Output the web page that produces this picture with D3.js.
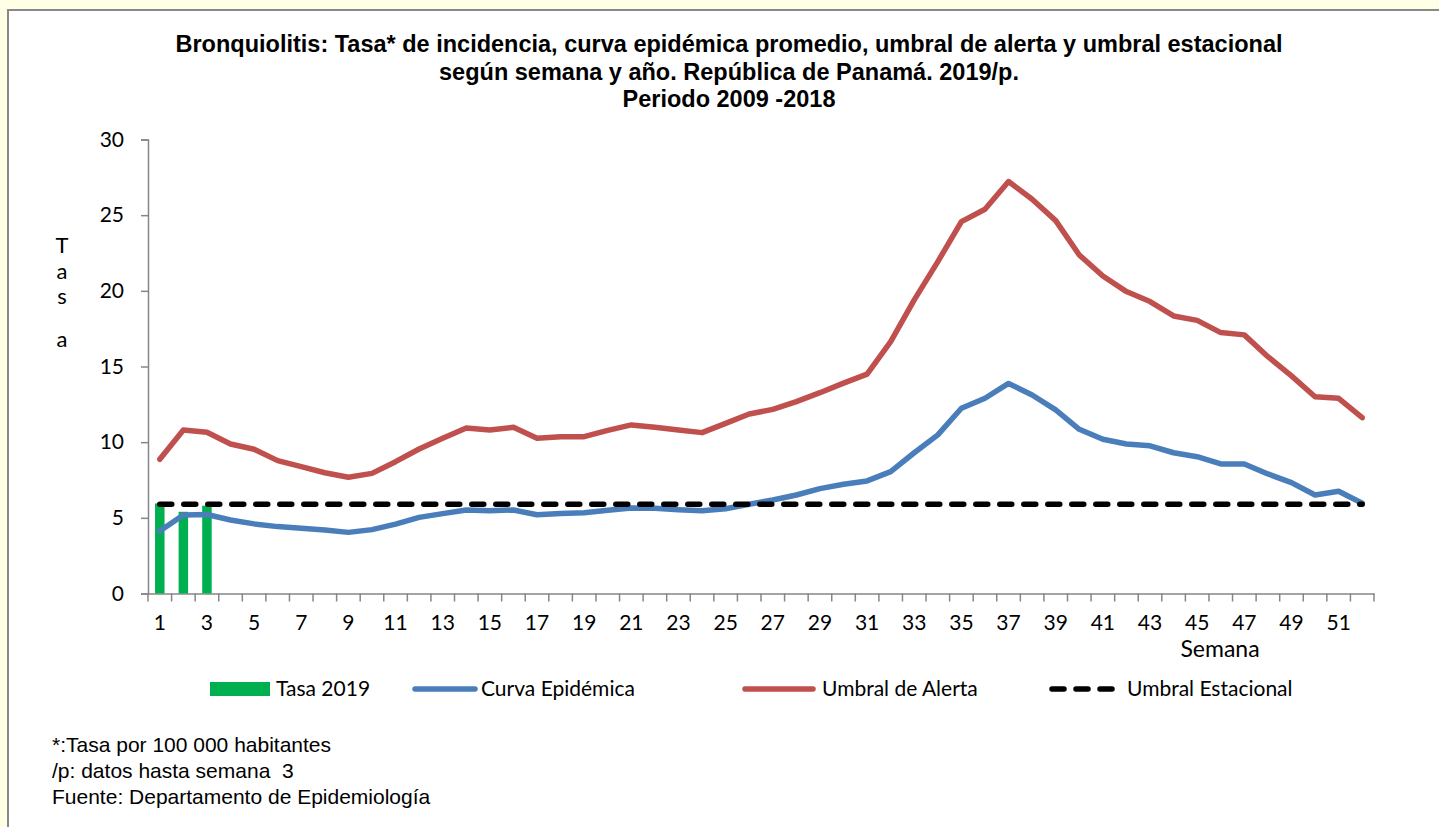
<!DOCTYPE html>
<html>
<head>
<meta charset="utf-8">
<script src="https://cdn.jsdelivr.net/npm/d3@7"></script>
<style>
  body { margin: 0; background: #ffffe6; }
  svg { display: block; }
  .note { white-space: pre; }
</style>
</head>
<body>
<svg id="chart" width="1439" height="827"></svg>
<script>
// semanas epidemiológicas
const weeks = d3.range(1, 53);
const tasa2019 = [5.95, 5.4, 5.8];
const curvaEpidemica = [4.13, 5.19, 5.22, 4.86, 4.6, 4.42, 4.31, 4.2, 4.04, 4.22, 4.58, 5.03, 5.28, 5.52, 5.47, 5.52, 5.2, 5.28, 5.34, 5.5,
  5.65, 5.63, 5.54, 5.47, 5.6, 5.9, 6.18, 6.51, 6.93, 7.22, 7.44, 8.05, 9.3, 10.48, 12.24, 12.9, 13.88, 13.12, 12.13, 10.85,
  10.19, 9.88, 9.76, 9.3, 9.04, 8.56, 8.56, 7.9, 7.33, 6.51, 6.76, 5.96];
const umbralAlerta = [8.87, 10.8, 10.66, 9.88, 9.53, 8.78, 8.38, 7.98, 7.68, 7.94, 8.71, 9.55, 10.26, 10.94, 10.8, 10.98, 10.26, 10.36, 10.36, 10.78,
  11.14, 10.98, 10.8, 10.63, 11.24, 11.86, 12.17, 12.68, 13.27, 13.9, 14.5, 16.64, 19.4, 21.93, 24.57, 25.39, 27.22, 26.05, 24.64, 22.37,
  20.98, 19.95, 19.29, 18.34, 18.05, 17.24, 17.09, 15.65, 14.38, 13.0, 12.9, 11.62];
const umbralEstacional = 5.9;
const yTicks = [0, 5, 10, 15, 20, 25, 30];

const titleLines = [
  "Bronquiolitis: Tasa* de incidencia, curva epidémica promedio, umbral de alerta y umbral estacional",
  "según semana y año. República de Panamá. 2019/p.",
  "Periodo 2009 -2018"
];
const notes = [
  "*:Tasa por 100 000 habitantes",
  "/p: datos hasta semana  3",
  "Fuente: Departamento de Epidemiología"
];

const green = "#00b050", blue = "#4a7ebb", red = "#c0504d", axisGray = "#868686";
const sans = "Lato, 'Open Sans', sans-serif";
const arial = "'Liberation Sans', Arial, sans-serif";

const svg = d3.select("#chart");

svg.append("rect").attr("x", 8).attr("y", 10).attr("width", 1440).attr("height", 830)
  .attr("fill", "#fff").attr("stroke", "#888").attr("stroke-width", 2);

svg.append("g").selectAll("text").data(titleLines).join("text")
  .attr("x", 729).attr("y", (d, i) => 52 + i * 27.5)
  .attr("text-anchor", "middle").attr("font-family", arial).attr("font-weight", "bold")
  .attr("font-size", 23.5).text(d => d);

const x = d3.scaleBand().domain(weeks).range([148, 1374]);
const xc = w => x(w) + x.bandwidth() / 2;
const y = d3.scaleLinear().domain([0, 30]).range([593.5, 139.5]);

// eje Y
const yAxis = svg.append("g").attr("transform", "translate(148,0)")
  .call(d3.axisLeft(y).tickValues(yTicks).tickSize(7).tickPadding(17));
yAxis.select(".domain").attr("stroke", axisGray).attr("stroke-width", 1.5);
yAxis.selectAll(".tick line").attr("stroke", axisGray).attr("stroke-width", 1.5);
yAxis.selectAll(".tick text").attr("font-family", sans).attr("font-size", 21).attr("fill", "#000");

// eje X
const xAxis = svg.append("g").attr("transform", "translate(0,593.5)")
  .call(d3.axisBottom(x).tickSize(0).tickPadding(22).tickFormat(d => d % 2 ? d : ""));
xAxis.select(".domain").attr("stroke", axisGray).attr("stroke-width", 1.5);
xAxis.selectAll(".tick text").attr("font-family", sans).attr("font-size", 21).attr("fill", "#000");
xAxis.selectAll("line.sep").data(weeks.concat([53])).join("line").attr("class", "sep")
  .attr("x1", d => d === 53 ? x.range()[1] : x(d)).attr("x2", d => d === 53 ? x.range()[1] : x(d))
  .attr("y1", 0).attr("y2", 8).attr("stroke", axisGray).attr("stroke-width", 1.5);

svg.append("text").attr("x", 1220).attr("y", 657).attr("text-anchor", "middle")
  .attr("font-family", sans).attr("font-size", 23).text("Semana");

svg.append("g").selectAll("text").data([["T", 253], ["a", 279], ["s", 304], ["a", 347]]).join("text")
  .attr("x", 62).attr("y", d => d[1]).attr("text-anchor", "middle")
  .attr("font-family", sans).attr("font-size", 22).text(d => d[0]);

// barras 2019
const barW = 9.5;
svg.append("g").selectAll("rect").data(tasa2019).join("rect")
  .attr("x", (d, i) => xc(weeks[i]) - barW / 2).attr("width", barW)
  .attr("y", d => y(d)).attr("height", d => y(0) - y(d)).attr("fill", green);

const line = d3.line().x((d, i) => xc(weeks[i])).y(d => y(d));
svg.append("path").datum(curvaEpidemica).attr("d", line).attr("fill", "none")
  .attr("stroke", blue).attr("stroke-width", 5.5).attr("stroke-linejoin", "round").attr("stroke-linecap", "round");
svg.append("path").datum(umbralAlerta).attr("d", line).attr("fill", "none")
  .attr("stroke", red).attr("stroke-width", 5.5).attr("stroke-linejoin", "round").attr("stroke-linecap", "round");
svg.append("path").datum(weeks.map(() => umbralEstacional)).attr("d", line).attr("fill", "none")
  .attr("stroke", "#000").attr("stroke-width", 5.5).attr("stroke-dasharray", "12,12").attr("stroke-linecap", "round");

// leyenda
const legendY = 689;
const leg = svg.append("g");
leg.append("rect").attr("x", 210).attr("y", legendY - 7).attr("width", 60).attr("height", 14).attr("fill", green);
leg.append("line").attr("x1", 415).attr("x2", 475).attr("y1", legendY).attr("y2", legendY)
  .attr("stroke", blue).attr("stroke-width", 5.5).attr("stroke-linecap", "round");
leg.append("line").attr("x1", 745).attr("x2", 813).attr("y1", legendY).attr("y2", legendY)
  .attr("stroke", red).attr("stroke-width", 5.5).attr("stroke-linecap", "round");
leg.append("line").attr("x1", 1052).attr("x2", 1112).attr("y1", legendY).attr("y2", legendY)
  .attr("stroke", "#000").attr("stroke-width", 5.5).attr("stroke-dasharray", "12,12").attr("stroke-linecap", "round");
const legendLabels = [["Tasa 2019", 276], ["Curva Epidémica", 481], ["Umbral de Alerta", 822], ["Umbral Estacional", 1127]];
leg.selectAll("text").data(legendLabels).join("text")
  .attr("x", d => d[1]).attr("y", legendY + 7).attr("font-family", sans).attr("font-size", 21)
  .text(d => d[0]);

svg.append("g").selectAll("text").data(notes).join("text").attr("class", "note")
  .attr("x", 52).attr("y", (d, i) => 752 + i * 26).attr("font-family", arial).attr("font-size", 21)
  .text(d => d);
</script>
</body>
</html>
